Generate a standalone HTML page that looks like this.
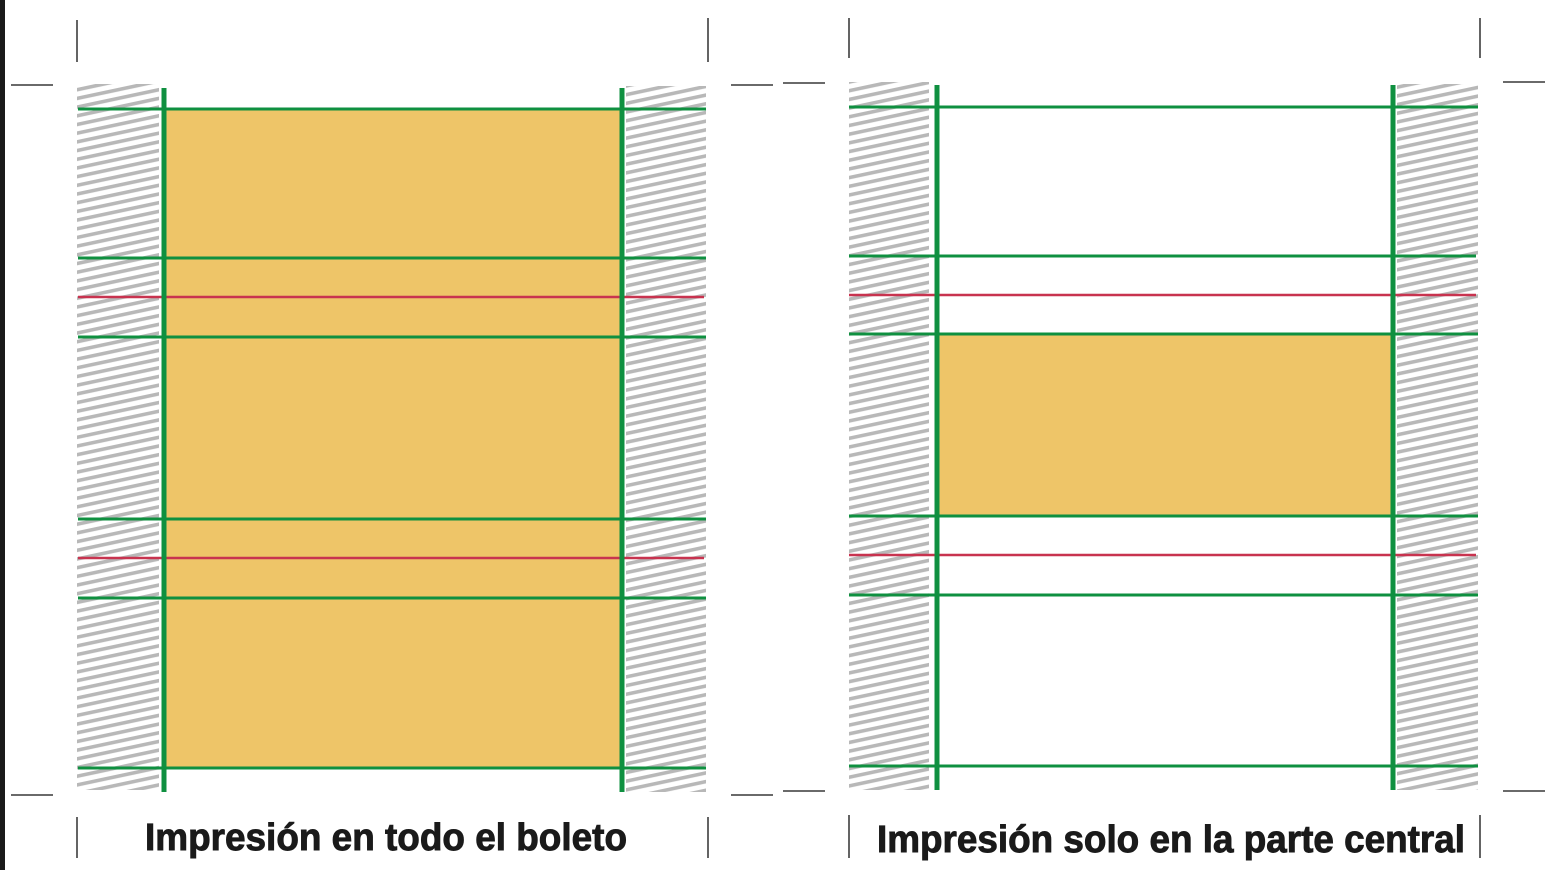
<!DOCTYPE html>
<html><head><meta charset="utf-8"><style>
html,body{margin:0;padding:0;background:#fff;}
svg{display:block}
</style></head><body>
<svg width="1549" height="870" viewBox="0 0 1549 870" xmlns="http://www.w3.org/2000/svg">
<defs>
<pattern id="h" width="40" height="8.5" patternUnits="userSpaceOnUse" patternTransform="rotate(-12)">
<rect x="0" y="0" width="40" height="3.6" fill="#b8b8b8"/>
</pattern>
</defs>
<rect x="0" y="0" width="5" height="870" fill="#1a1a1a"/>
<g stroke="#111" stroke-width="1.3">
<line x1="77" y1="20" x2="77" y2="62"/><line x1="708" y1="18" x2="708" y2="62"/>
<line x1="11" y1="85" x2="53" y2="85"/><line x1="731" y1="85" x2="773" y2="85"/>
<line x1="11" y1="795" x2="53" y2="795"/><line x1="731" y1="795" x2="773" y2="795"/>
<line x1="77" y1="817" x2="77" y2="858"/><line x1="708" y1="817" x2="708" y2="858"/>
<line x1="849" y1="18" x2="849" y2="58"/><line x1="1480" y1="18" x2="1480" y2="58"/>
<line x1="783" y1="83" x2="825" y2="83"/><line x1="1503" y1="82" x2="1545" y2="82"/>
<line x1="783" y1="791" x2="825" y2="791"/><line x1="1503" y1="791" x2="1545" y2="791"/>
<line x1="849" y1="815" x2="849" y2="858"/><line x1="1480" y1="815" x2="1480" y2="858"/>
</g>
<rect x="77" y="84" width="82" height="706" fill="url(#h)"/>
<rect x="626" y="86" width="80" height="706" fill="url(#h)"/>
<rect x="163" y="108" width="458" height="660" fill="#eec568"/>
<g stroke="#0f9040" stroke-width="3">
<line x1="78" y1="109" x2="706" y2="109"/><line x1="78" y1="258" x2="706" y2="258"/>
<line x1="78" y1="337" x2="706" y2="337"/><line x1="78" y1="519" x2="706" y2="519"/>
<line x1="78" y1="598" x2="706" y2="598"/><line x1="78" y1="768" x2="706" y2="768"/>
</g>
<g stroke="#c8334f" stroke-width="2.5">
<line x1="78" y1="297" x2="704" y2="297"/><line x1="78" y1="558" x2="704" y2="558"/>
</g>
<g stroke="#0f9040" stroke-width="5">
<line x1="164" y1="88" x2="164" y2="792"/><line x1="622" y1="88" x2="622" y2="792"/>
</g>
<rect x="849" y="82" width="80" height="708" fill="url(#h)"/>
<rect x="1397" y="84" width="81" height="706" fill="url(#h)"/>
<rect x="937" y="335" width="456" height="181" fill="#eec568"/>
<g stroke="#0f9040" stroke-width="3">
<line x1="849" y1="107" x2="1478" y2="107"/><line x1="849" y1="256" x2="1476" y2="256"/>
<line x1="849" y1="334" x2="1478" y2="334"/><line x1="849" y1="516" x2="1478" y2="516"/>
<line x1="849" y1="595" x2="1478" y2="595"/><line x1="849" y1="766" x2="1478" y2="766"/>
</g>
<g stroke="#c8334f" stroke-width="2.5">
<line x1="849" y1="295" x2="1476" y2="295"/><line x1="849" y1="555" x2="1476" y2="555"/>
</g>
<g stroke="#0f9040" stroke-width="5">
<line x1="937" y1="85" x2="937" y2="790"/><line x1="1393" y1="85" x2="1393" y2="790"/>
</g>
<g font-family="Liberation Sans, sans-serif" font-weight="bold" font-size="38" fill="#1a1a1a" stroke="#1a1a1a" stroke-width="0.9">
<text x="145" y="850" textLength="482" lengthAdjust="spacingAndGlyphs">Impresión en todo el boleto</text>
<text x="877" y="852" textLength="588" lengthAdjust="spacingAndGlyphs">Impresión solo en la parte central</text>
</g>
</svg>
</body></html>
